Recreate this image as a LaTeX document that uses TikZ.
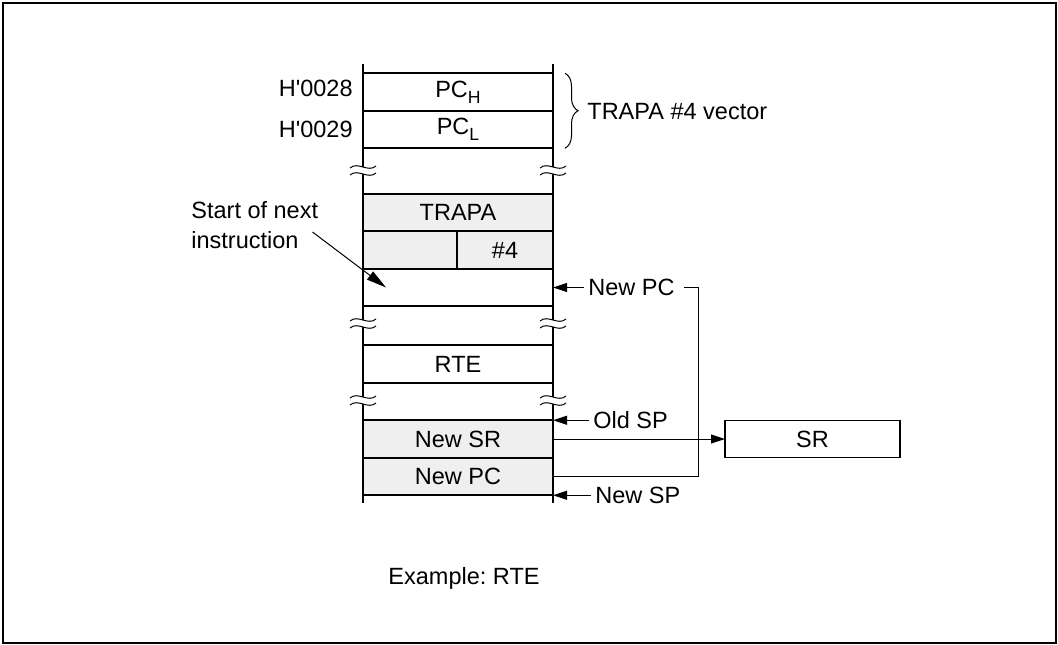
\documentclass[tikz,border=0pt]{standalone}
\usepackage{fontspec}
\setmainfont{Liberation Sans}
\usetikzlibrary{arrows.meta,decorations.pathreplacing,positioning}
\definecolor{cellgray}{HTML}{EFEFEF}
\newcommand{\lowsub}[1]{\raisebox{-0.25em}{\scalebox{0.75}{#1}}}
\frenchspacing

\begin{document}
\begin{tikzpicture}[
      x=0.5pt, y=-0.5pt,
      font=\fontsize{11.75}{15}\selectfont,
      cell/.style={draw=black, line width=1pt, minimum width=95pt, minimum height=18.75pt, inner sep=0pt, outer sep=0pt},
      shaded/.style={cell, fill=cellgray},
      colline/.style={line width=1pt},
      thinline/.style={line width=0.5pt},
      arrow/.style={thinline, -{Triangle[length=7pt,width=4.5pt]}},
      lbl/.style={inner sep=2pt, anchor=west}
      ]
      \useasboundingbox (0,0) rectangle (1058,644);
      \draw[line width=1pt] (3,2.5) rectangle (1056,643);

      % Memory cells
      \node (pch) [cell] at (458,92) {PC\lowsub{H}};
      \node (pcl) [cell, below=0pt of pch] {PC\lowsub{L}};
      \node (trapa) [shaded] at (458,212.5) {TRAPA};
      \node (immL) [shaded, minimum width=47pt, below right=0pt and 0pt of trapa.south west] {};
      \node (imm) [shaded, minimum width=48pt, right=0pt of immL] {\#4};
      \node (npc) [cell, below right=0pt and 0pt of immL.south west] {};
      \node (rte) [cell] at (458,364) {RTE};
      \node (newsr) [shaded] at (458,439) {New SR};
      \node (newpc) [shaded, below=0pt of newsr] {New PC};

      % Column sides and breaks
      \foreach \ya/\yb in {64/167, 174/320, 327/397, 404/503}
        \draw[colline] (363,\ya) -- (363,\yb) (553,\ya) -- (553,\yb);
      \foreach \yb in {167,174,320,327,397,404}
        \foreach \xb in {363,553}
          \draw[thinline] (\xb-13,\yb+1) .. controls (\xb-5,\yb-6) and (\xb+5,\yb+6) .. (\xb+13,\yb-1);

      % Labels
      \node (addrH) [left=4pt of pch, inner sep=1pt, yshift=2pt] {H\textquotesingle 0028};
      \node (addrL) [left=4pt of pcl, inner sep=1pt] {H\textquotesingle 0029};
      \draw[thinline, decorate, decoration={brace, amplitude=6.5pt}] ([xshift=6pt]pch.north east) -- ([xshift=6pt]pcl.south east);
      \node (vec) [lbl] at (583,112) {TRAPA \#4 vector};
      \node (nextlbl) [align=left, inner sep=0pt, anchor=north west] at (191,201) {Start of next\\instruction};
      \node (npclbl) [lbl] at (584,287.5) {New PC};
      \node (oldsp) [lbl] at (589,420.25) {Old SP};
      \node (newsp) [lbl] at (591,495.25) {New SP};
      \node (sr) [cell, line width=0.9pt, minimum width=87.5pt, minimum height=18.5pt] at (812.5,439) {SR};
      \node (caption) at (464,578) {Example: RTE};
      \coordinate (pcturn) at ([xshift=10pt]npclbl.east);

      % Arrows
      \draw[thinline, -{Triangle[length=10pt,width=5pt]}] ([xshift=-3pt,yshift=-3.5pt]nextlbl.east) -- ([xshift=11.5pt]npc.west);
      \draw[arrow] (npclbl.west) -- (npclbl.west -| npc.east);
      \draw[arrow] (oldsp.west) -- (oldsp.west -| newsr.east);
      \draw[arrow] (newsp.west) -- (newsp.west -| newpc.east);
      \draw[arrow] (newsr.east) -- (sr.west);
      \draw[thinline] (newpc.east) -| (pcturn) -- ([xshift=2.5pt]npclbl.east);

    \end{tikzpicture}
\end{document}
